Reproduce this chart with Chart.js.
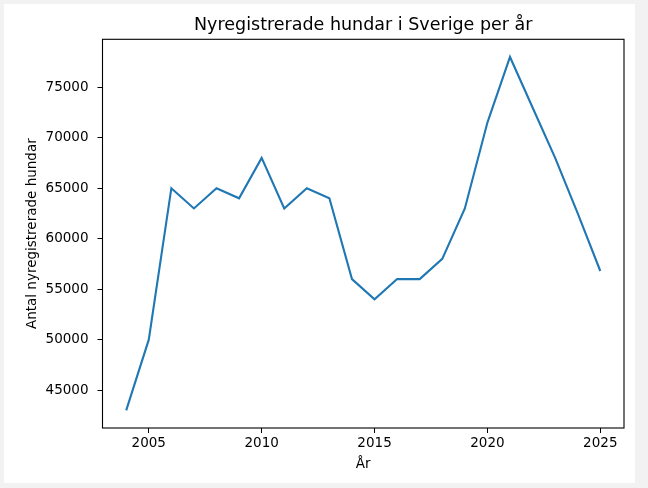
<!DOCTYPE html>
<html>
<head>
<meta charset="utf-8">
<script src="https://cdn.jsdelivr.net/npm/chart.js@4.4.1/dist/chart.umd.min.js"></script>
<style>
  html, body { margin: 0; padding: 0; background: #f2f2f2; }
  #sheet { position: absolute; left: 4px; top: 4px; width: 631px; height: 479px; background: #fff; }
  #wrap { position: absolute; left: 0; top: 0; width: 648px; height: 488px; }
</style>
</head>
<body>
<div id="sheet"></div>
<div id="wrap"><canvas id="myChart" width="648" height="488"></canvas></div>
<script>
// data
const years = [2004, 2005, 2006, 2007, 2008, 2009, 2010, 2011, 2012, 2013, 2014,
               2015, 2016, 2017, 2018, 2019, 2020, 2021, 2022, 2023, 2024, 2025];
const dogs = [43000, 50000, 65000, 63000, 65000, 64000, 68000, 63000, 65000, 64000, 56000,
              54000, 56000, 56000, 58000, 63000, 71500, 78000, 73000, 68000, 62500, 56800];
const xTicks = [2005, 2010, 2015, 2020, 2025];
const yTicks = [45000, 50000, 55000, 60000, 65000, 70000, 75000];

const FONT = 'DejaVu Sans';
const TICK_COLOR = '#000';

// matplotlib style frame round the plot area, and title centred over it
const framePlugin = {
  id: 'frame',
  afterLayout(chart) {
    if (chart.titleBlock) {
      chart.titleBlock.left = chart.chartArea.left;
      chart.titleBlock.right = chart.chartArea.right;
    }
  },
  afterDraw(chart) {
    const { ctx, chartArea: a } = chart;
    ctx.save();
    ctx.strokeStyle = '#000';
    ctx.lineWidth = 1.1;
    ctx.strokeRect(a.left, a.top, a.right - a.left, a.bottom - a.top);
    ctx.restore();
  }
};

const ctx1 = document.getElementById('myChart').getContext('2d');
new Chart(ctx1, {
  type: 'line',
  data: {
    datasets: [{
      label: 'Antal',
      data: years.map((y, i) => ({ x: y, y: dogs[i] })),
      borderColor: '#1f77b4',
      borderWidth: 2.1,
      pointRadius: 0,
      tension: 0,
      fill: false
    }]
  },
  plugins: [framePlugin],
  options: {
    responsive: false,
    animation: false,
    devicePixelRatio: 1,
    layout: { padding: { left: 0, right: 24, top: 0, bottom: 0 } },
    plugins: {
      legend: { display: false },
      tooltip: { enabled: false },
      title: {
        display: true,
        text: 'Nyregistrerade hundar i Sverige per år',
        color: '#000',
        font: { family: FONT, size: 17.5, weight: 'normal', lineHeight: 1.2 },
        padding: { top: 15.2, bottom: 3.1 }
      }
    },
    scales: {
      x: {
        type: 'linear',
        min: 2002.95,
        max: 2026.05,
        afterBuildTicks: s => { s.ticks = xTicks.map(v => ({ value: v })); },
        afterFit: s => { s.height = 60; },
        border: { display: false },
        grid: { drawOnChartArea: false, drawTicks: true, tickLength: 5, color: TICK_COLOR, lineWidth: 1 },
        ticks: {
          color: '#000',
          padding: 2,
          maxRotation: 0,
          autoSkip: false,
          font: { family: FONT, size: 13.5 },
          callback: v => String(v)
        },
        title: {
          display: true,
          text: 'År',
          color: '#000',
          font: { family: FONT, size: 13.5, lineHeight: 1.2 },
          padding: { top: 0, bottom: 15.5 }
        }
      },
      y: {
        type: 'linear',
        min: 41250,
        max: 79750,
        afterBuildTicks: s => { s.ticks = yTicks.map(v => ({ value: v })); },
        afterFit: s => { s.width = 102.5; },
        border: { display: false },
        grid: { drawOnChartArea: false, drawTicks: true, tickLength: 5, color: TICK_COLOR, lineWidth: 1 },
        ticks: {
          color: '#000',
          padding: 9,
          autoSkip: false,
          font: { family: FONT, size: 13.5 },
          callback: v => String(v)
        },
        title: {
          display: true,
          text: 'Antal nyregistrerade hundar',
          color: '#000',
          font: { family: FONT, size: 13.5, lineHeight: 1.2 },
          padding: { top: 24, bottom: 0 }
        }
      }
    }
  }
});
</script>
</body>
</html>
